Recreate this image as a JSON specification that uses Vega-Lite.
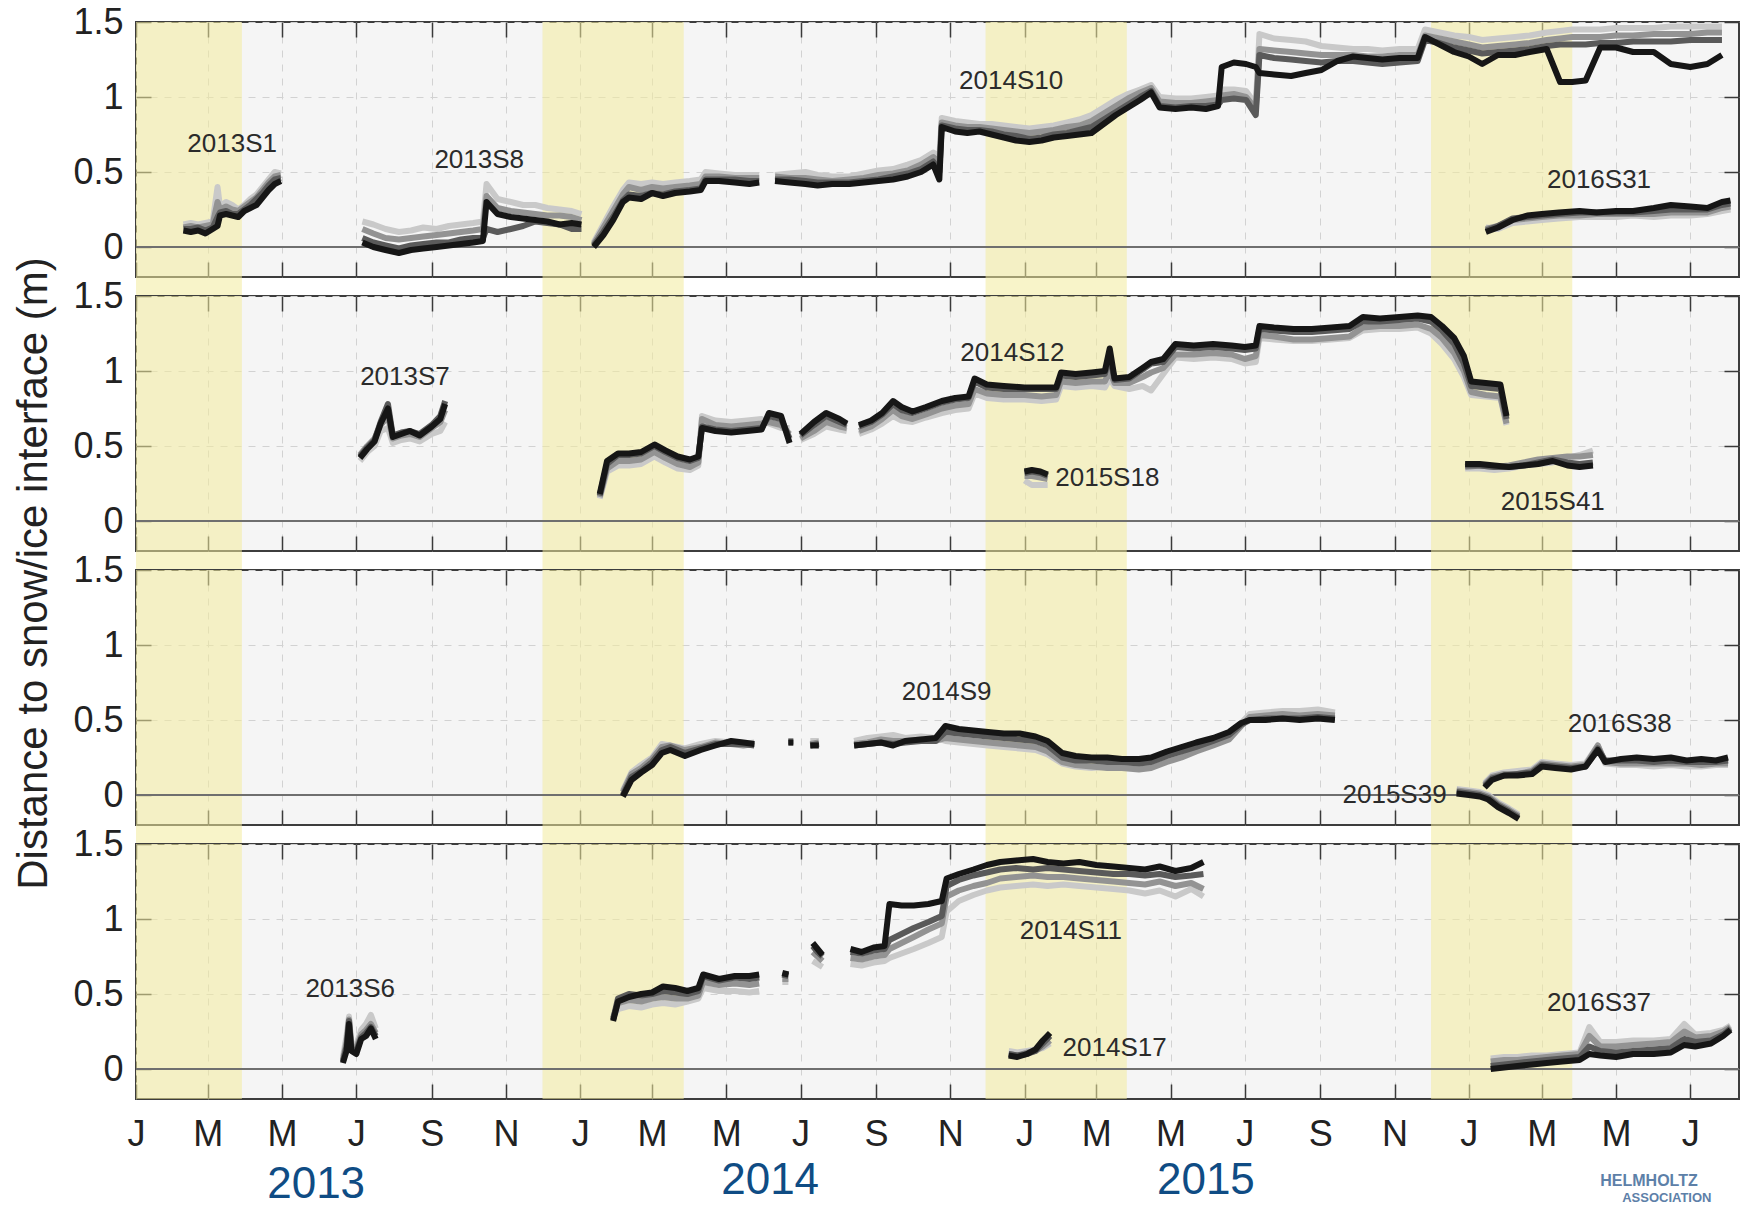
{
"$schema": "https://vega.github.io/schema/vega-lite/v6.json",
"background": "white",
"padding": {"left": 10, "top": 3, "right": 4, "bottom": 2},
"spacing": 19,
"bounds": "flush",
"config": {"font": "Liberation Sans", "view": {"stroke": "#3d3d3d", "strokeWidth": 2, "fill": "#f5f5f5"}},
"datasets": {
"bands": [
{"s":"2013/01/01","e":"2013/03/29"},
{"s":"2013/12/01","e":"2014/03/27"},
{"s":"2014/11/30","e":"2015/03/26"},
{"s":"2015/12/01","e":"2016/03/26"}
],
"labels": [
{"p":1,"t":"2013S1","d":"2013/03/21","v":0.69},
{"p":1,"t":"2013S8","d":"2013/10/10","v":0.58},
{"p":1,"t":"2014S10","d":"2014/12/21","v":1.11},
{"p":1,"t":"2016S31","d":"2016/04/17","v":0.45},
{"p":2,"t":"2013S7","d":"2013/08/10","v":0.96},
{"p":2,"t":"2014S12","d":"2014/12/22","v":1.12},
{"p":2,"t":"2015S18","d":"2015/03/10","v":0.29},
{"p":2,"t":"2015S41","d":"2016/03/10","v":0.13},
{"p":3,"t":"2014S9","d":"2014/10/29","v":0.69},
{"p":3,"t":"2016S38","d":"2016/05/04","v":0.475},
{"p":3,"t":"2015S39","d":"2015/11/01","v":0.0},
{"p":4,"t":"2013S6","d":"2013/06/26","v":0.535},
{"p":4,"t":"2014S11","d":"2015/02/08","v":0.92},
{"p":4,"t":"2014S17","d":"2015/03/16","v":0.14},
{"p":4,"t":"2016S37","d":"2016/04/17","v":0.44}
],
"notes": [
{"k":"year","t":"2013","d":"2013/05/29","v":-0.77},
{"k":"year","t":"2014","d":"2014/06/06","v":-0.745},
{"k":"year","t":"2015","d":"2015/05/30","v":-0.745},
{"k":"org1","t":"HELMHOLTZ","d":"2016/04/18","v":-0.747},
{"k":"org2","t":"ASSOCIATION","d":"2016/05/06","v":-0.86}
],
"obs": [
{"p":1,"g":"1a","d":"2013/02/09","s1":0.11,"s2":0.12,"s3":0.13,"s4":0.15},
{"p":1,"g":"1a","d":"2013/02/15","s1":0.10,"s2":0.12,"s3":0.14,"s4":0.16},
{"p":1,"g":"1a","d":"2013/02/21","s1":0.11,"s2":0.13,"s3":0.13,"s4":0.15},
{"p":1,"g":"1a","d":"2013/02/27","s1":0.09,"s2":0.11,"s3":0.14,"s4":0.16},
{"p":1,"g":"1a","d":"2013/03/05","s1":0.12,"s2":0.13,"s3":0.15,"s4":0.17},
{"p":1,"g":"1a","d":"2013/03/09","s1":0.14,"s2":0.20,"s3":0.30,"s4":0.40},
{"p":1,"g":"1a","d":"2013/03/11","s1":0.21,"s2":0.23,"s3":0.25,"s4":0.27},
{"p":1,"g":"1a","d":"2013/03/16","s1":0.22,"s2":0.24,"s3":0.27,"s4":0.30},
{"p":1,"g":"1a","d":"2013/03/21","s1":0.21,"s2":0.22,"s3":0.25,"s4":0.28},
{"p":1,"g":"1a","d":"2013/03/26","s1":0.20,"s2":0.22,"s3":0.24,"s4":0.25},
{"p":1,"g":"1a","d":"2013/03/31","s1":0.24,"s2":0.25,"s3":0.27,"s4":0.28},
{"p":1,"g":"1a","d":"2013/04/05","s1":0.26,"s2":0.28,"s3":0.30,"s4":0.32},
{"p":1,"g":"1a","d":"2013/04/10","s1":0.28,"s2":0.32,"s3":0.33,"s4":0.35},
{"p":1,"g":"1a","d":"2013/04/15","s1":0.33,"s2":0.36,"s3":0.38,"s4":0.40},
{"p":1,"g":"1a","d":"2013/04/20","s1":0.38,"s2":0.41,"s3":0.43,"s4":0.45},
{"p":1,"g":"1a","d":"2013/04/25","s1":0.42,"s2":0.45,"s3":0.47,"s4":0.50},
{"p":1,"g":"1a","d":"2013/04/30","s1":0.44,"s2":0.46,"s3":0.48,"s4":0.49},
{"p":1,"g":"1b","d":"2013/07/06","s1":0.03,"s2":0.06,"s3":0.12,"s4":0.17},
{"p":1,"g":"1b","d":"2013/07/15","s1":0.00,"s2":0.03,"s3":0.09,"s4":0.15},
{"p":1,"g":"1b","d":"2013/07/25","s1":-0.02,"s2":0.01,"s3":0.06,"s4":0.12},
{"p":1,"g":"1b","d":"2013/08/05","s1":-0.04,"s2":-0.01,"s3":0.05,"s4":0.10},
{"p":1,"g":"1b","d":"2013/08/15","s1":-0.02,"s2":0.01,"s3":0.06,"s4":0.11},
{"p":1,"g":"1b","d":"2013/08/25","s1":-0.01,"s2":0.02,"s3":0.07,"s4":0.13},
{"p":1,"g":"1b","d":"2013/09/05","s1":0.00,"s2":0.03,"s3":0.08,"s4":0.12},
{"p":1,"g":"1b","d":"2013/09/15","s1":0.01,"s2":0.03,"s3":0.09,"s4":0.14},
{"p":1,"g":"1b","d":"2013/09/25","s1":0.02,"s2":0.05,"s3":0.10,"s4":0.15},
{"p":1,"g":"1b","d":"2013/10/05","s1":0.03,"s2":0.06,"s3":0.11,"s4":0.16},
{"p":1,"g":"1b","d":"2013/10/13","s1":0.04,"s2":0.06,"s3":0.12,"s4":0.17},
{"p":1,"g":"1b","d":"2013/10/16","s1":0.30,"s2":0.12,"s3":0.34,"s4":0.42},
{"p":1,"g":"1b","d":"2013/10/25","s1":0.22,"s2":0.10,"s3":0.26,"s4":0.32},
{"p":1,"g":"1b","d":"2013/11/05","s1":0.20,"s2":0.12,"s3":0.24,"s4":0.30},
{"p":1,"g":"1b","d":"2013/11/15","s1":0.19,"s2":0.14,"s3":0.23,"s4":0.28},
{"p":1,"g":"1b","d":"2013/11/25","s1":0.18,"s2":0.17,"s3":0.22,"s4":0.28},
{"p":1,"g":"1b","d":"2013/12/05","s1":0.17,"s2":0.16,"s3":0.21,"s4":0.26},
{"p":1,"g":"1b","d":"2013/12/15","s1":0.15,"s2":0.15,"s3":0.21,"s4":0.25},
{"p":1,"g":"1b","d":"2013/12/25","s1":0.16,"s2":0.12,"s3":0.20,"s4":0.24},
{"p":1,"g":"1b","d":"2014/01/02","s1":0.15,"s2":0.12,"s3":0.18,"s4":0.22},
{"p":1,"g":"1c","d":"2014/01/12","s1":0.00,"s2":0.01,"s3":0.02,"s4":0.03},
{"p":1,"g":"1c","d":"2014/01/20","s1":0.08,"s2":0.10,"s3":0.13,"s4":0.15},
{"p":1,"g":"1c","d":"2014/01/28","s1":0.18,"s2":0.20,"s3":0.24,"s4":0.27},
{"p":1,"g":"1c","d":"2014/02/05","s1":0.30,"s2":0.31,"s3":0.35,"s4":0.38},
{"p":1,"g":"1c","d":"2014/02/10","s1":0.33,"s2":0.35,"s3":0.40,"s4":0.43},
{"p":1,"g":"1c","d":"2014/02/20","s1":0.32,"s2":0.34,"s3":0.38,"s4":0.42},
{"p":1,"g":"1c","d":"2014/03/01","s1":0.36,"s2":0.36,"s3":0.40,"s4":0.43},
{"p":1,"g":"1c","d":"2014/03/10","s1":0.34,"s2":0.35,"s3":0.39,"s4":0.42},
{"p":1,"g":"1c","d":"2014/03/20","s1":0.36,"s2":0.37,"s3":0.40,"s4":0.43},
{"p":1,"g":"1c","d":"2014/04/01","s1":0.37,"s2":0.38,"s3":0.41,"s4":0.44},
{"p":1,"g":"1c","d":"2014/04/10","s1":0.38,"s2":0.39,"s3":0.42,"s4":0.45},
{"p":1,"g":"1c","d":"2014/04/14","s1":0.44,"s2":0.45,"s3":0.47,"s4":0.50},
{"p":1,"g":"1c","d":"2014/04/25","s1":0.44,"s2":0.45,"s3":0.47,"s4":0.49},
{"p":1,"g":"1c","d":"2014/05/08","s1":0.43,"s2":0.45,"s3":0.46,"s4":0.48},
{"p":1,"g":"1c","d":"2014/05/20","s1":0.42,"s2":0.44,"s3":0.46,"s4":0.48},
{"p":1,"g":"1c","d":"2014/05/28","s1":0.43,"s2":0.44,"s3":0.46,"s4":0.48},
{"p":1,"g":"1d","d":"2014/06/10","s1":0.44,"s2":0.45,"s3":0.47,"s4":0.48},
{"p":1,"g":"1d","d":"2014/06/22","s1":0.43,"s2":0.45,"s3":0.46,"s4":0.49},
{"p":1,"g":"1d","d":"2014/07/05","s1":0.42,"s2":0.44,"s3":0.46,"s4":0.50},
{"p":1,"g":"1d","d":"2014/07/15","s1":0.41,"s2":0.43,"s3":0.45,"s4":0.48},
{"p":1,"g":"1d","d":"2014/07/27","s1":0.42,"s2":0.43,"s3":0.44,"s4":0.47},
{"p":1,"g":"1d","d":"2014/08/10","s1":0.42,"s2":0.43,"s3":0.45,"s4":0.47},
{"p":1,"g":"1d","d":"2014/08/22","s1":0.43,"s2":0.44,"s3":0.46,"s4":0.49},
{"p":1,"g":"1d","d":"2014/09/03","s1":0.44,"s2":0.45,"s3":0.48,"s4":0.51},
{"p":1,"g":"1d","d":"2014/09/15","s1":0.45,"s2":0.47,"s3":0.49,"s4":0.52},
{"p":1,"g":"1d","d":"2014/09/27","s1":0.47,"s2":0.49,"s3":0.51,"s4":0.55},
{"p":1,"g":"1d","d":"2014/10/08","s1":0.50,"s2":0.52,"s3":0.55,"s4":0.58},
{"p":1,"g":"1d","d":"2014/10/18","s1":0.55,"s2":0.57,"s3":0.60,"s4":0.63},
{"p":1,"g":"1d","d":"2014/10/23","s1":0.45,"s2":0.50,"s3":0.55,"s4":0.60},
{"p":1,"g":"1d","d":"2014/10/25","s1":0.80,"s2":0.81,"s3":0.83,"s4":0.86},
{"p":1,"g":"1d","d":"2014/11/05","s1":0.77,"s2":0.79,"s3":0.81,"s4":0.84},
{"p":1,"g":"1d","d":"2014/11/15","s1":0.76,"s2":0.78,"s3":0.80,"s4":0.83},
{"p":1,"g":"1d","d":"2014/11/25","s1":0.77,"s2":0.78,"s3":0.80,"s4":0.82},
{"p":1,"g":"1d","d":"2014/12/05","s1":0.75,"s2":0.77,"s3":0.79,"s4":0.82},
{"p":1,"g":"1d","d":"2014/12/15","s1":0.73,"s2":0.75,"s3":0.78,"s4":0.81},
{"p":1,"g":"1d","d":"2014/12/25","s1":0.71,"s2":0.74,"s3":0.77,"s4":0.80},
{"p":1,"g":"1d","d":"2015/01/05","s1":0.70,"s2":0.72,"s3":0.76,"s4":0.79},
{"p":1,"g":"1d","d":"2015/01/15","s1":0.71,"s2":0.73,"s3":0.77,"s4":0.80},
{"p":1,"g":"1d","d":"2015/01/25","s1":0.73,"s2":0.75,"s3":0.78,"s4":0.81},
{"p":1,"g":"1d","d":"2015/02/05","s1":0.74,"s2":0.76,"s3":0.80,"s4":0.83},
{"p":1,"g":"1d","d":"2015/02/15","s1":0.75,"s2":0.78,"s3":0.81,"s4":0.85},
{"p":1,"g":"1d","d":"2015/02/25","s1":0.76,"s2":0.80,"s3":0.84,"s4":0.88},
{"p":1,"g":"1d","d":"2015/03/07","s1":0.82,"s2":0.85,"s3":0.89,"s4":0.93},
{"p":1,"g":"1d","d":"2015/03/17","s1":0.88,"s2":0.90,"s3":0.94,"s4":0.98},
{"p":1,"g":"1d","d":"2015/03/27","s1":0.93,"s2":0.95,"s3":0.99,"s4":1.02},
{"p":1,"g":"1d","d":"2015/04/06","s1":0.98,"s2":1.00,"s3":1.03,"s4":1.05},
{"p":1,"g":"1d","d":"2015/04/15","s1":1.03,"s2":1.04,"s3":1.06,"s4":1.08},
{"p":1,"g":"1d","d":"2015/04/22","s1":0.93,"s2":0.94,"s3":0.97,"s4":1.00},
{"p":1,"g":"1d","d":"2015/05/05","s1":0.92,"s2":0.93,"s3":0.96,"s4":0.99},
{"p":1,"g":"1d","d":"2015/05/18","s1":0.93,"s2":0.94,"s3":0.96,"s4":0.99},
{"p":1,"g":"1d","d":"2015/05/30","s1":0.92,"s2":0.94,"s3":0.97,"s4":1.00},
{"p":1,"g":"1d","d":"2015/06/09","s1":0.94,"s2":0.95,"s3":0.98,"s4":1.01},
{"p":1,"g":"1d","d":"2015/06/12","s1":1.20,"s2":0.98,"s3":1.01,"s4":1.05},
{"p":1,"g":"1d","d":"2015/06/22","s1":1.23,"s2":0.99,"s3":1.02,"s4":1.05},
{"p":1,"g":"1d","d":"2015/07/02","s1":1.22,"s2":0.98,"s3":1.00,"s4":1.04},
{"p":1,"g":"1d","d":"2015/07/10","s1":1.20,"s2":0.88,"s3":0.92,"s4":0.95},
{"p":1,"g":"1d","d":"2015/07/13","s1":1.16,"s2":1.28,"s3":1.32,"s4":1.42},
{"p":1,"g":"1d","d":"2015/07/25","s1":1.15,"s2":1.26,"s3":1.31,"s4":1.39},
{"p":1,"g":"1d","d":"2015/08/08","s1":1.14,"s2":1.25,"s3":1.30,"s4":1.38},
{"p":1,"g":"1d","d":"2015/08/20","s1":1.16,"s2":1.24,"s3":1.29,"s4":1.37},
{"p":1,"g":"1d","d":"2015/09/02","s1":1.18,"s2":1.23,"s3":1.28,"s4":1.34},
{"p":1,"g":"1d","d":"2015/09/15","s1":1.24,"s2":1.24,"s3":1.28,"s4":1.33},
{"p":1,"g":"1d","d":"2015/09/28","s1":1.27,"s2":1.24,"s3":1.28,"s4":1.32},
{"p":1,"g":"1d","d":"2015/10/10","s1":1.26,"s2":1.23,"s3":1.27,"s4":1.32},
{"p":1,"g":"1d","d":"2015/10/22","s1":1.25,"s2":1.22,"s3":1.27,"s4":1.31},
{"p":1,"g":"1d","d":"2015/11/05","s1":1.26,"s2":1.23,"s3":1.28,"s4":1.32},
{"p":1,"g":"1d","d":"2015/11/20","s1":1.26,"s2":1.24,"s3":1.28,"s4":1.32},
{"p":1,"g":"1d","d":"2015/11/26","s1":1.40,"s2":1.38,"s3":1.41,"s4":1.45},
{"p":1,"g":"1d","d":"2015/12/08","s1":1.35,"s2":1.36,"s3":1.39,"s4":1.43},
{"p":1,"g":"1d","d":"2015/12/20","s1":1.30,"s2":1.33,"s3":1.37,"s4":1.41},
{"p":1,"g":"1d","d":"2016/01/01","s1":1.27,"s2":1.31,"s3":1.35,"s4":1.40},
{"p":1,"g":"1d","d":"2016/01/12","s1":1.22,"s2":1.29,"s3":1.33,"s4":1.38},
{"p":1,"g":"1d","d":"2016/01/25","s1":1.28,"s2":1.30,"s3":1.34,"s4":1.39},
{"p":1,"g":"1d","d":"2016/02/08","s1":1.28,"s2":1.31,"s3":1.35,"s4":1.40},
{"p":1,"g":"1d","d":"2016/02/20","s1":1.30,"s2":1.32,"s3":1.36,"s4":1.41},
{"p":1,"g":"1d","d":"2016/03/05","s1":1.32,"s2":1.34,"s3":1.38,"s4":1.43},
{"p":1,"g":"1d","d":"2016/03/16","s1":1.10,"s2":1.35,"s3":1.39,"s4":1.44},
{"p":1,"g":"1d","d":"2016/03/26","s1":1.10,"s2":1.35,"s3":1.40,"s4":1.45},
{"p":1,"g":"1d","d":"2016/04/06","s1":1.11,"s2":1.35,"s3":1.40,"s4":1.45},
{"p":1,"g":"1d","d":"2016/04/18","s1":1.33,"s2":1.36,"s3":1.40,"s4":1.45},
{"p":1,"g":"1d","d":"2016/05/01","s1":1.33,"s2":1.36,"s3":1.41,"s4":1.46},
{"p":1,"g":"1d","d":"2016/05/15","s1":1.30,"s2":1.37,"s3":1.41,"s4":1.46},
{"p":1,"g":"1d","d":"2016/06/01","s1":1.30,"s2":1.37,"s3":1.42,"s4":1.46},
{"p":1,"g":"1d","d":"2016/06/15","s1":1.22,"s2":1.37,"s3":1.42,"s4":1.47},
{"p":1,"g":"1d","d":"2016/07/01","s1":1.20,"s2":1.38,"s3":1.42,"s4":1.47},
{"p":1,"g":"1d","d":"2016/07/15","s1":1.22,"s2":1.38,"s3":1.43,"s4":1.47},
{"p":1,"g":"1d","d":"2016/07/27","s1":1.28,"s2":1.38,"s3":1.43,"s4":1.47},
{"p":1,"g":"1e","d":"2016/01/15","s1":0.10,"s2":0.11,"s3":0.12,"s4":0.13},
{"p":1,"g":"1e","d":"2016/01/25","s1":0.13,"s2":0.14,"s3":0.14,"s4":0.12},
{"p":1,"g":"1e","d":"2016/02/06","s1":0.18,"s2":0.19,"s3":0.18,"s4":0.16},
{"p":1,"g":"1e","d":"2016/02/18","s1":0.21,"s2":0.20,"s3":0.19,"s4":0.17},
{"p":1,"g":"1e","d":"2016/03/01","s1":0.22,"s2":0.21,"s3":0.20,"s4":0.18},
{"p":1,"g":"1e","d":"2016/03/15","s1":0.23,"s2":0.22,"s3":0.21,"s4":0.19},
{"p":1,"g":"1e","d":"2016/04/01","s1":0.24,"s2":0.23,"s3":0.21,"s4":0.20},
{"p":1,"g":"1e","d":"2016/04/15","s1":0.23,"s2":0.23,"s3":0.22,"s4":0.20},
{"p":1,"g":"1e","d":"2016/05/01","s1":0.24,"s2":0.23,"s3":0.22,"s4":0.20},
{"p":1,"g":"1e","d":"2016/05/15","s1":0.24,"s2":0.23,"s3":0.22,"s4":0.21},
{"p":1,"g":"1e","d":"2016/06/01","s1":0.26,"s2":0.24,"s3":0.22,"s4":0.20},
{"p":1,"g":"1e","d":"2016/06/15","s1":0.28,"s2":0.25,"s3":0.23,"s4":0.21},
{"p":1,"g":"1e","d":"2016/07/01","s1":0.27,"s2":0.25,"s3":0.23,"s4":0.21},
{"p":1,"g":"1e","d":"2016/07/15","s1":0.26,"s2":0.25,"s3":0.23,"s4":0.22},
{"p":1,"g":"1e","d":"2016/07/27","s1":0.30,"s2":0.28,"s3":0.26,"s4":0.24},
{"p":1,"g":"1e","d":"2016/08/03","s1":0.31,"s2":0.29,"s3":0.27,"s4":0.25},
{"p":2,"g":"2a","d":"2013/07/04","s1":0.42,"s2":0.43,"s3":0.44,"s4":0.40},
{"p":2,"g":"2a","d":"2013/07/10","s1":0.48,"s2":0.49,"s3":0.50,"s4":0.46},
{"p":2,"g":"2a","d":"2013/07/16","s1":0.53,"s2":0.54,"s3":0.55,"s4":0.50},
{"p":2,"g":"2a","d":"2013/07/21","s1":0.65,"s2":0.66,"s3":0.64,"s4":0.60},
{"p":2,"g":"2a","d":"2013/07/27","s1":0.75,"s2":0.78,"s3":0.70,"s4":0.62},
{"p":2,"g":"2a","d":"2013/07/31","s1":0.56,"s2":0.57,"s3":0.55,"s4":0.52},
{"p":2,"g":"2a","d":"2013/08/07","s1":0.58,"s2":0.59,"s3":0.57,"s4":0.54},
{"p":2,"g":"2a","d":"2013/08/14","s1":0.60,"s2":0.60,"s3":0.58,"s4":0.55},
{"p":2,"g":"2a","d":"2013/08/22","s1":0.57,"s2":0.58,"s3":0.56,"s4":0.53},
{"p":2,"g":"2a","d":"2013/09/01","s1":0.63,"s2":0.64,"s3":0.62,"s4":0.58},
{"p":2,"g":"2a","d":"2013/09/08","s1":0.68,"s2":0.70,"s3":0.66,"s4":0.60},
{"p":2,"g":"2a","d":"2013/09/12","s1":0.78,"s2":0.80,"s3":0.74,"s4":0.66},
{"p":2,"g":"2b","d":"2014/01/17","s1":0.18,"s2":0.17,"s3":0.16,"s4":0.15},
{"p":2,"g":"2b","d":"2014/01/23","s1":0.40,"s2":0.38,"s3":0.35,"s4":0.33},
{"p":2,"g":"2b","d":"2014/02/01","s1":0.45,"s2":0.44,"s3":0.40,"s4":0.37},
{"p":2,"g":"2b","d":"2014/02/10","s1":0.45,"s2":0.44,"s3":0.40,"s4":0.37},
{"p":2,"g":"2b","d":"2014/02/20","s1":0.46,"s2":0.45,"s3":0.41,"s4":0.38},
{"p":2,"g":"2b","d":"2014/03/03","s1":0.51,"s2":0.50,"s3":0.46,"s4":0.43},
{"p":2,"g":"2b","d":"2014/03/12","s1":0.47,"s2":0.46,"s3":0.42,"s4":0.39},
{"p":2,"g":"2b","d":"2014/03/22","s1":0.43,"s2":0.42,"s3":0.38,"s4":0.35},
{"p":2,"g":"2b","d":"2014/04/01","s1":0.41,"s2":0.40,"s3":0.36,"s4":0.34},
{"p":2,"g":"2b","d":"2014/04/08","s1":0.43,"s2":0.42,"s3":0.39,"s4":0.37},
{"p":2,"g":"2b","d":"2014/04/11","s1":0.62,"s2":0.63,"s3":0.68,"s4":0.70},
{"p":2,"g":"2b","d":"2014/04/22","s1":0.60,"s2":0.61,"s3":0.64,"s4":0.67},
{"p":2,"g":"2b","d":"2014/05/05","s1":0.59,"s2":0.60,"s3":0.63,"s4":0.66},
{"p":2,"g":"2b","d":"2014/05/18","s1":0.60,"s2":0.61,"s3":0.64,"s4":0.67},
{"p":2,"g":"2b","d":"2014/05/30","s1":0.61,"s2":0.62,"s3":0.65,"s4":0.68},
{"p":2,"g":"2b","d":"2014/06/05","s1":0.72,"s2":0.70,"s3":0.66,"s4":0.65},
{"p":2,"g":"2b","d":"2014/06/15","s1":0.70,"s2":0.68,"s3":0.64,"s4":0.62},
{"p":2,"g":"2b","d":"2014/06/22","s1":0.52,"s2":0.55,"s3":0.58,"s4":0.62},
{"p":2,"g":"2c","d":"2014/07/01","s1":0.58,"s2":0.57,"s3":0.55,"s4":0.54},
{"p":2,"g":"2c","d":"2014/07/12","s1":0.66,"s2":0.64,"s3":0.60,"s4":0.58},
{"p":2,"g":"2c","d":"2014/07/22","s1":0.72,"s2":0.70,"s3":0.66,"s4":0.63},
{"p":2,"g":"2c","d":"2014/08/02","s1":0.68,"s2":0.66,"s3":0.63,"s4":0.61},
{"p":2,"g":"2c","d":"2014/08/08","s1":0.65,"s2":0.64,"s3":0.62,"s4":0.60},
{"p":2,"g":"2d","d":"2014/08/18","s1":0.64,"s2":0.63,"s3":0.60,"s4":0.58},
{"p":2,"g":"2d","d":"2014/08/28","s1":0.67,"s2":0.66,"s3":0.63,"s4":0.61},
{"p":2,"g":"2d","d":"2014/09/06","s1":0.72,"s2":0.71,"s3":0.68,"s4":0.65},
{"p":2,"g":"2d","d":"2014/09/15","s1":0.80,"s2":0.78,"s3":0.74,"s4":0.70},
{"p":2,"g":"2d","d":"2014/09/22","s1":0.76,"s2":0.74,"s3":0.70,"s4":0.67},
{"p":2,"g":"2d","d":"2014/10/01","s1":0.73,"s2":0.72,"s3":0.68,"s4":0.66},
{"p":2,"g":"2d","d":"2014/10/12","s1":0.76,"s2":0.75,"s3":0.71,"s4":0.69},
{"p":2,"g":"2d","d":"2014/10/25","s1":0.80,"s2":0.79,"s3":0.75,"s4":0.72},
{"p":2,"g":"2d","d":"2014/11/05","s1":0.82,"s2":0.81,"s3":0.77,"s4":0.74},
{"p":2,"g":"2d","d":"2014/11/16","s1":0.83,"s2":0.82,"s3":0.78,"s4":0.75},
{"p":2,"g":"2d","d":"2014/11/21","s1":0.95,"s2":0.93,"s3":0.88,"s4":0.85},
{"p":2,"g":"2d","d":"2014/12/01","s1":0.91,"s2":0.89,"s3":0.85,"s4":0.82},
{"p":2,"g":"2d","d":"2014/12/15","s1":0.90,"s2":0.88,"s3":0.84,"s4":0.81},
{"p":2,"g":"2d","d":"2015/01/01","s1":0.89,"s2":0.88,"s3":0.84,"s4":0.81},
{"p":2,"g":"2d","d":"2015/01/15","s1":0.89,"s2":0.88,"s3":0.83,"s4":0.80},
{"p":2,"g":"2d","d":"2015/01/27","s1":0.89,"s2":0.88,"s3":0.84,"s4":0.81},
{"p":2,"g":"2d","d":"2015/01/31","s1":0.99,"s2":0.97,"s3":0.93,"s4":0.90},
{"p":2,"g":"2d","d":"2015/02/12","s1":0.98,"s2":0.96,"s3":0.92,"s4":0.89},
{"p":2,"g":"2d","d":"2015/02/25","s1":0.99,"s2":0.97,"s3":0.93,"s4":0.90},
{"p":2,"g":"2d","d":"2015/03/08","s1":1.00,"s2":0.98,"s3":0.93,"s4":0.89},
{"p":2,"g":"2d","d":"2015/03/12","s1":1.15,"s2":1.10,"s3":1.00,"s4":0.95},
{"p":2,"g":"2d","d":"2015/03/16","s1":0.95,"s2":0.94,"s3":0.92,"s4":0.90},
{"p":2,"g":"2d","d":"2015/03/28","s1":0.96,"s2":0.95,"s3":0.92,"s4":0.88},
{"p":2,"g":"2d","d":"2015/04/08","s1":1.02,"s2":1.01,"s3":0.96,"s4":0.90},
{"p":2,"g":"2d","d":"2015/04/15","s1":1.06,"s2":1.05,"s3":0.99,"s4":0.87},
{"p":2,"g":"2d","d":"2015/04/25","s1":1.08,"s2":1.06,"s3":1.02,"s4":0.98},
{"p":2,"g":"2d","d":"2015/05/05","s1":1.18,"s2":1.16,"s3":1.11,"s4":1.09},
{"p":2,"g":"2d","d":"2015/05/20","s1":1.17,"s2":1.15,"s3":1.11,"s4":1.08},
{"p":2,"g":"2d","d":"2015/06/05","s1":1.18,"s2":1.16,"s3":1.12,"s4":1.09},
{"p":2,"g":"2d","d":"2015/06/20","s1":1.17,"s2":1.15,"s3":1.11,"s4":1.08},
{"p":2,"g":"2d","d":"2015/07/01","s1":1.16,"s2":1.14,"s3":1.08,"s4":1.05},
{"p":2,"g":"2d","d":"2015/07/10","s1":1.17,"s2":1.15,"s3":1.10,"s4":1.06},
{"p":2,"g":"2d","d":"2015/07/13","s1":1.30,"s2":1.28,"s3":1.24,"s4":1.22},
{"p":2,"g":"2d","d":"2015/07/25","s1":1.29,"s2":1.27,"s3":1.23,"s4":1.21},
{"p":2,"g":"2d","d":"2015/08/10","s1":1.28,"s2":1.26,"s3":1.21,"s4":1.20},
{"p":2,"g":"2d","d":"2015/08/25","s1":1.28,"s2":1.26,"s3":1.21,"s4":1.20},
{"p":2,"g":"2d","d":"2015/09/10","s1":1.29,"s2":1.27,"s3":1.22,"s4":1.21},
{"p":2,"g":"2d","d":"2015/09/25","s1":1.30,"s2":1.28,"s3":1.23,"s4":1.22},
{"p":2,"g":"2d","d":"2015/10/06","s1":1.36,"s2":1.33,"s3":1.29,"s4":1.27},
{"p":2,"g":"2d","d":"2015/10/20","s1":1.35,"s2":1.33,"s3":1.30,"s4":1.28},
{"p":2,"g":"2d","d":"2015/11/05","s1":1.36,"s2":1.34,"s3":1.30,"s4":1.28},
{"p":2,"g":"2d","d":"2015/11/20","s1":1.37,"s2":1.35,"s3":1.31,"s4":1.29},
{"p":2,"g":"2d","d":"2015/12/01","s1":1.36,"s2":1.33,"s3":1.28,"s4":1.25},
{"p":2,"g":"2d","d":"2015/12/10","s1":1.30,"s2":1.27,"s3":1.22,"s4":1.18},
{"p":2,"g":"2d","d":"2015/12/20","s1":1.22,"s2":1.18,"s3":1.12,"s4":1.08},
{"p":2,"g":"2d","d":"2015/12/28","s1":1.10,"s2":1.05,"s3":1.00,"s4":0.96},
{"p":2,"g":"2d","d":"2016/01/03","s1":0.93,"s2":0.90,"s3":0.86,"s4":0.84},
{"p":2,"g":"2d","d":"2016/01/15","s1":0.92,"s2":0.89,"s3":0.84,"s4":0.83},
{"p":2,"g":"2d","d":"2016/01/27","s1":0.91,"s2":0.88,"s3":0.83,"s4":0.82},
{"p":2,"g":"2d","d":"2016/02/01","s1":0.70,"s2":0.68,"s3":0.65,"s4":0.64},
{"p":2,"g":"2e","d":"2015/01/01","s1":0.33,"s2":0.32,"s3":0.30,"s4":0.27},
{"p":2,"g":"2e","d":"2015/01/07","s1":0.34,"s2":0.33,"s3":0.30,"s4":0.24},
{"p":2,"g":"2e","d":"2015/01/14","s1":0.33,"s2":0.32,"s3":0.29,"s4":0.24},
{"p":2,"g":"2e","d":"2015/01/20","s1":0.31,"s2":0.30,"s3":0.28,"s4":0.24},
{"p":2,"g":"2f","d":"2015/12/29","s1":0.38,"s2":0.37,"s3":0.36,"s4":0.35},
{"p":2,"g":"2f","d":"2016/01/10","s1":0.38,"s2":0.37,"s3":0.37,"s4":0.35},
{"p":2,"g":"2f","d":"2016/01/22","s1":0.37,"s2":0.36,"s3":0.36,"s4":0.34},
{"p":2,"g":"2f","d":"2016/02/03","s1":0.36,"s2":0.36,"s3":0.37,"s4":0.35},
{"p":2,"g":"2f","d":"2016/02/15","s1":0.37,"s2":0.37,"s3":0.39,"s4":0.37},
{"p":2,"g":"2f","d":"2016/02/27","s1":0.38,"s2":0.39,"s3":0.41,"s4":0.38},
{"p":2,"g":"2f","d":"2016/03/10","s1":0.40,"s2":0.41,"s3":0.42,"s4":0.39},
{"p":2,"g":"2f","d":"2016/03/22","s1":0.37,"s2":0.39,"s3":0.43,"s4":0.42},
{"p":2,"g":"2f","d":"2016/04/01","s1":0.36,"s2":0.38,"s3":0.43,"s4":0.44},
{"p":2,"g":"2f","d":"2016/04/12","s1":0.37,"s2":0.39,"s3":0.44,"s4":0.47},
{"p":3,"g":"3a","d":"2014/02/05","s1":-0.01,"s2":0.00,"s3":0.02,"s4":0.03},
{"p":3,"g":"3a","d":"2014/02/12","s1":0.10,"s2":0.12,"s3":0.14,"s4":0.15},
{"p":3,"g":"3a","d":"2014/02/20","s1":0.15,"s2":0.16,"s3":0.18,"s4":0.20},
{"p":3,"g":"3a","d":"2014/03/01","s1":0.20,"s2":0.22,"s3":0.24,"s4":0.25},
{"p":3,"g":"3a","d":"2014/03/09","s1":0.28,"s2":0.30,"s3":0.32,"s4":0.34},
{"p":3,"g":"3a","d":"2014/03/16","s1":0.30,"s2":0.32,"s3":0.33,"s4":0.33},
{"p":3,"g":"3a","d":"2014/03/28","s1":0.26,"s2":0.28,"s3":0.30,"s4":0.31},
{"p":3,"g":"3a","d":"2014/04/10","s1":0.30,"s2":0.31,"s3":0.32,"s4":0.34},
{"p":3,"g":"3a","d":"2014/04/22","s1":0.33,"s2":0.34,"s3":0.35,"s4":0.36},
{"p":3,"g":"3a","d":"2014/05/05","s1":0.36,"s2":0.34,"s3":0.34,"s4":0.35},
{"p":3,"g":"3a","d":"2014/05/15","s1":0.35,"s2":0.34,"s3":0.33,"s4":0.34},
{"p":3,"g":"3a","d":"2014/05/24","s1":0.34,"s2":0.33,"s3":0.34,"s4":0.35},
{"p":3,"g":"3b","d":"2014/06/21","s1":0.35,"s2":0.35,"s3":0.36,"s4":0.36},
{"p":3,"g":"3b","d":"2014/06/25","s1":0.35,"s2":0.35,"s3":0.36,"s4":0.36},
{"p":3,"g":"3c","d":"2014/07/09","s1":0.33,"s2":0.33,"s3":0.34,"s4":0.36},
{"p":3,"g":"3c","d":"2014/07/16","s1":0.33,"s2":0.34,"s3":0.35,"s4":0.36},
{"p":3,"g":"3d","d":"2014/08/14","s1":0.33,"s2":0.33,"s3":0.34,"s4":0.36},
{"p":3,"g":"3d","d":"2014/08/25","s1":0.34,"s2":0.34,"s3":0.35,"s4":0.38},
{"p":3,"g":"3d","d":"2014/09/05","s1":0.35,"s2":0.35,"s3":0.37,"s4":0.39},
{"p":3,"g":"3d","d":"2014/09/15","s1":0.33,"s2":0.34,"s3":0.36,"s4":0.40},
{"p":3,"g":"3d","d":"2014/09/25","s1":0.36,"s2":0.35,"s3":0.36,"s4":0.38},
{"p":3,"g":"3d","d":"2014/10/08","s1":0.37,"s2":0.36,"s3":0.37,"s4":0.39},
{"p":3,"g":"3d","d":"2014/10/20","s1":0.38,"s2":0.36,"s3":0.36,"s4":0.38},
{"p":3,"g":"3d","d":"2014/10/28","s1":0.46,"s2":0.42,"s3":0.38,"s4":0.36},
{"p":3,"g":"3d","d":"2014/11/08","s1":0.44,"s2":0.41,"s3":0.37,"s4":0.35},
{"p":3,"g":"3d","d":"2014/11/20","s1":0.43,"s2":0.40,"s3":0.36,"s4":0.34},
{"p":3,"g":"3d","d":"2014/12/02","s1":0.42,"s2":0.39,"s3":0.35,"s4":0.33},
{"p":3,"g":"3d","d":"2014/12/15","s1":0.41,"s2":0.38,"s3":0.34,"s4":0.32},
{"p":3,"g":"3d","d":"2014/12/28","s1":0.41,"s2":0.37,"s3":0.33,"s4":0.31},
{"p":3,"g":"3d","d":"2015/01/10","s1":0.39,"s2":0.36,"s3":0.32,"s4":0.30},
{"p":3,"g":"3d","d":"2015/01/20","s1":0.36,"s2":0.33,"s3":0.29,"s4":0.27},
{"p":3,"g":"3d","d":"2015/02/01","s1":0.28,"s2":0.25,"s3":0.22,"s4":0.21},
{"p":3,"g":"3d","d":"2015/02/12","s1":0.26,"s2":0.23,"s3":0.20,"s4":0.19},
{"p":3,"g":"3d","d":"2015/02/25","s1":0.25,"s2":0.23,"s3":0.19,"s4":0.18},
{"p":3,"g":"3d","d":"2015/03/10","s1":0.25,"s2":0.22,"s3":0.18,"s4":0.19},
{"p":3,"g":"3d","d":"2015/03/22","s1":0.24,"s2":0.22,"s3":0.18,"s4":0.19},
{"p":3,"g":"3d","d":"2015/04/05","s1":0.24,"s2":0.21,"s3":0.17,"s4":0.18},
{"p":3,"g":"3d","d":"2015/04/15","s1":0.25,"s2":0.22,"s3":0.18,"s4":0.20},
{"p":3,"g":"3d","d":"2015/04/28","s1":0.29,"s2":0.26,"s3":0.22,"s4":0.23},
{"p":3,"g":"3d","d":"2015/05/10","s1":0.32,"s2":0.29,"s3":0.25,"s4":0.26},
{"p":3,"g":"3d","d":"2015/05/22","s1":0.35,"s2":0.32,"s3":0.29,"s4":0.30},
{"p":3,"g":"3d","d":"2015/06/05","s1":0.38,"s2":0.36,"s3":0.33,"s4":0.34},
{"p":3,"g":"3d","d":"2015/06/18","s1":0.42,"s2":0.40,"s3":0.37,"s4":0.38},
{"p":3,"g":"3d","d":"2015/06/28","s1":0.48,"s2":0.47,"s3":0.46,"s4":0.48},
{"p":3,"g":"3d","d":"2015/07/05","s1":0.50,"s2":0.50,"s3":0.52,"s4":0.54},
{"p":3,"g":"3d","d":"2015/07/18","s1":0.50,"s2":0.51,"s3":0.53,"s4":0.55},
{"p":3,"g":"3d","d":"2015/08/01","s1":0.51,"s2":0.51,"s3":0.54,"s4":0.56},
{"p":3,"g":"3d","d":"2015/08/15","s1":0.50,"s2":0.51,"s3":0.53,"s4":0.56},
{"p":3,"g":"3d","d":"2015/08/30","s1":0.51,"s2":0.52,"s3":0.54,"s4":0.57},
{"p":3,"g":"3d","d":"2015/09/13","s1":0.50,"s2":0.51,"s3":0.53,"s4":0.55},
{"p":3,"g":"3e","d":"2015/12/22","s1":0.01,"s2":0.02,"s3":0.03,"s4":0.04},
{"p":3,"g":"3e","d":"2016/01/01","s1":0.00,"s2":0.01,"s3":0.02,"s4":0.03},
{"p":3,"g":"3e","d":"2016/01/10","s1":-0.01,"s2":0.00,"s3":0.01,"s4":0.02},
{"p":3,"g":"3e","d":"2016/01/17","s1":-0.03,"s2":-0.02,"s3":-0.01,"s4":0.00},
{"p":3,"g":"3e","d":"2016/01/25","s1":-0.08,"s2":-0.07,"s3":-0.06,"s4":-0.05},
{"p":3,"g":"3e","d":"2016/02/03","s1":-0.12,"s2":-0.11,"s3":-0.10,"s4":-0.09},
{"p":3,"g":"3e","d":"2016/02/11","s1":-0.16,"s2":-0.15,"s3":-0.14,"s4":-0.13},
{"p":3,"g":"3f","d":"2016/01/14","s1":0.05,"s2":0.06,"s3":0.07,"s4":0.08},
{"p":3,"g":"3f","d":"2016/01/20","s1":0.10,"s2":0.11,"s3":0.12,"s4":0.13},
{"p":3,"g":"3f","d":"2016/01/30","s1":0.13,"s2":0.13,"s3":0.14,"s4":0.15},
{"p":3,"g":"3f","d":"2016/02/10","s1":0.13,"s2":0.14,"s3":0.14,"s4":0.16},
{"p":3,"g":"3f","d":"2016/02/22","s1":0.14,"s2":0.15,"s3":0.16,"s4":0.17},
{"p":3,"g":"3f","d":"2016/03/01","s1":0.19,"s2":0.20,"s3":0.21,"s4":0.22},
{"p":3,"g":"3f","d":"2016/03/12","s1":0.18,"s2":0.19,"s3":0.20,"s4":0.21},
{"p":3,"g":"3f","d":"2016/03/25","s1":0.17,"s2":0.18,"s3":0.19,"s4":0.20},
{"p":3,"g":"3f","d":"2016/04/06","s1":0.19,"s2":0.19,"s3":0.20,"s4":0.21},
{"p":3,"g":"3f","d":"2016/04/16","s1":0.30,"s2":0.31,"s3":0.33,"s4":0.33},
{"p":3,"g":"3f","d":"2016/04/22","s1":0.22,"s2":0.23,"s3":0.22,"s4":0.21},
{"p":3,"g":"3f","d":"2016/05/05","s1":0.24,"s2":0.23,"s3":0.21,"s4":0.20},
{"p":3,"g":"3f","d":"2016/05/18","s1":0.25,"s2":0.23,"s3":0.21,"s4":0.20},
{"p":3,"g":"3f","d":"2016/06/01","s1":0.24,"s2":0.22,"s3":0.21,"s4":0.19},
{"p":3,"g":"3f","d":"2016/06/15","s1":0.25,"s2":0.23,"s3":0.21,"s4":0.20},
{"p":3,"g":"3f","d":"2016/06/28","s1":0.23,"s2":0.22,"s3":0.21,"s4":0.19},
{"p":3,"g":"3f","d":"2016/07/10","s1":0.24,"s2":0.22,"s3":0.20,"s4":0.19},
{"p":3,"g":"3f","d":"2016/07/22","s1":0.23,"s2":0.22,"s3":0.21,"s4":0.20},
{"p":3,"g":"3f","d":"2016/08/01","s1":0.25,"s2":0.23,"s3":0.21,"s4":0.20},
{"p":4,"g":"4a","d":"2013/06/20","s1":0.04,"s2":0.05,"s3":0.06,"s4":0.08},
{"p":4,"g":"4a","d":"2013/06/23","s1":0.12,"s2":0.15,"s3":0.18,"s4":0.22},
{"p":4,"g":"4a","d":"2013/06/25","s1":0.30,"s2":0.32,"s3":0.33,"s4":0.35},
{"p":4,"g":"4a","d":"2013/06/27","s1":0.12,"s2":0.13,"s3":0.15,"s4":0.16},
{"p":4,"g":"4a","d":"2013/07/01","s1":0.10,"s2":0.12,"s3":0.14,"s4":0.16},
{"p":4,"g":"4a","d":"2013/07/05","s1":0.20,"s2":0.21,"s3":0.23,"s4":0.26},
{"p":4,"g":"4a","d":"2013/07/09","s1":0.22,"s2":0.24,"s3":0.26,"s4":0.30},
{"p":4,"g":"4a","d":"2013/07/13","s1":0.27,"s2":0.28,"s3":0.30,"s4":0.36},
{"p":4,"g":"4a","d":"2013/07/17","s1":0.20,"s2":0.22,"s3":0.24,"s4":0.27},
{"p":4,"g":"4b","d":"2014/01/28","s1":0.32,"s2":0.33,"s3":0.34,"s4":0.35},
{"p":4,"g":"4b","d":"2014/02/01","s1":0.45,"s2":0.47,"s3":0.44,"s4":0.40},
{"p":4,"g":"4b","d":"2014/02/10","s1":0.48,"s2":0.50,"s3":0.46,"s4":0.42},
{"p":4,"g":"4b","d":"2014/02/20","s1":0.50,"s2":0.49,"s3":0.45,"s4":0.41},
{"p":4,"g":"4b","d":"2014/03/01","s1":0.51,"s2":0.50,"s3":0.47,"s4":0.43},
{"p":4,"g":"4b","d":"2014/03/10","s1":0.55,"s2":0.52,"s3":0.48,"s4":0.44},
{"p":4,"g":"4b","d":"2014/03/20","s1":0.54,"s2":0.51,"s3":0.47,"s4":0.43},
{"p":4,"g":"4b","d":"2014/03/30","s1":0.52,"s2":0.50,"s3":0.47,"s4":0.45},
{"p":4,"g":"4b","d":"2014/04/08","s1":0.54,"s2":0.52,"s3":0.49,"s4":0.47},
{"p":4,"g":"4b","d":"2014/04/12","s1":0.63,"s2":0.62,"s3":0.58,"s4":0.54},
{"p":4,"g":"4b","d":"2014/04/25","s1":0.60,"s2":0.59,"s3":0.56,"s4":0.52},
{"p":4,"g":"4b","d":"2014/05/08","s1":0.62,"s2":0.61,"s3":0.57,"s4":0.52},
{"p":4,"g":"4b","d":"2014/05/20","s1":0.62,"s2":0.60,"s3":0.56,"s4":0.51},
{"p":4,"g":"4b","d":"2014/05/28","s1":0.63,"s2":0.61,"s3":0.57,"s4":0.52},
{"p":4,"g":"4c","d":"2014/06/16","s1":0.64,"s2":0.63,"s3":0.60,"s4":0.58},
{"p":4,"g":"4c","d":"2014/06/21","s1":0.63,"s2":0.62,"s3":0.60,"s4":0.58},
{"p":4,"g":"4d","d":"2014/07/11","s1":0.84,"s2":0.82,"s3":0.78,"s4":0.72},
{"p":4,"g":"4d","d":"2014/07/15","s1":0.80,"s2":0.78,"s3":0.75,"s4":0.70},
{"p":4,"g":"4d","d":"2014/07/19","s1":0.76,"s2":0.75,"s3":0.72,"s4":0.68},
{"p":4,"g":"4e","d":"2014/08/11","s1":0.80,"s2":0.78,"s3":0.74,"s4":0.70},
{"p":4,"g":"4e","d":"2014/08/20","s1":0.78,"s2":0.77,"s3":0.73,"s4":0.69},
{"p":4,"g":"4e","d":"2014/08/30","s1":0.81,"s2":0.79,"s3":0.75,"s4":0.71},
{"p":4,"g":"4e","d":"2014/09/08","s1":0.82,"s2":0.80,"s3":0.76,"s4":0.72},
{"p":4,"g":"4e","d":"2014/09/12","s1":1.10,"s2":0.86,"s3":0.80,"s4":0.74},
{"p":4,"g":"4e","d":"2014/09/22","s1":1.09,"s2":0.90,"s3":0.84,"s4":0.77},
{"p":4,"g":"4e","d":"2014/10/02","s1":1.09,"s2":0.94,"s3":0.88,"s4":0.80},
{"p":4,"g":"4e","d":"2014/10/14","s1":1.10,"s2":0.98,"s3":0.93,"s4":0.84},
{"p":4,"g":"4e","d":"2014/10/25","s1":1.12,"s2":1.02,"s3":0.97,"s4":0.88},
{"p":4,"g":"4e","d":"2014/10/29","s1":1.27,"s2":1.22,"s3":1.15,"s4":1.05},
{"p":4,"g":"4e","d":"2014/11/08","s1":1.30,"s2":1.26,"s3":1.19,"s4":1.12},
{"p":4,"g":"4e","d":"2014/11/20","s1":1.33,"s2":1.29,"s3":1.22,"s4":1.16},
{"p":4,"g":"4e","d":"2014/12/01","s1":1.36,"s2":1.31,"s3":1.24,"s4":1.19},
{"p":4,"g":"4e","d":"2014/12/12","s1":1.38,"s2":1.33,"s3":1.27,"s4":1.21},
{"p":4,"g":"4e","d":"2014/12/25","s1":1.39,"s2":1.34,"s3":1.28,"s4":1.22},
{"p":4,"g":"4e","d":"2015/01/08","s1":1.40,"s2":1.33,"s3":1.29,"s4":1.23},
{"p":4,"g":"4e","d":"2015/01/20","s1":1.38,"s2":1.34,"s3":1.28,"s4":1.22},
{"p":4,"g":"4e","d":"2015/02/02","s1":1.37,"s2":1.33,"s3":1.28,"s4":1.23},
{"p":4,"g":"4e","d":"2015/02/15","s1":1.38,"s2":1.32,"s3":1.27,"s4":1.22},
{"p":4,"g":"4e","d":"2015/03/01","s1":1.36,"s2":1.31,"s3":1.26,"s4":1.21},
{"p":4,"g":"4e","d":"2015/03/15","s1":1.35,"s2":1.30,"s3":1.25,"s4":1.20},
{"p":4,"g":"4e","d":"2015/03/28","s1":1.34,"s2":1.30,"s3":1.24,"s4":1.19},
{"p":4,"g":"4e","d":"2015/04/10","s1":1.33,"s2":1.29,"s3":1.23,"s4":1.17},
{"p":4,"g":"4e","d":"2015/04/22","s1":1.35,"s2":1.30,"s3":1.25,"s4":1.19},
{"p":4,"g":"4e","d":"2015/05/05","s1":1.32,"s2":1.28,"s3":1.22,"s4":1.15},
{"p":4,"g":"4e","d":"2015/05/18","s1":1.34,"s2":1.29,"s3":1.24,"s4":1.20},
{"p":4,"g":"4e","d":"2015/05/28","s1":1.38,"s2":1.30,"s3":1.20,"s4":1.15},
{"p":4,"g":"4f","d":"2014/12/19","s1":0.09,"s2":0.10,"s3":0.10,"s4":0.12},
{"p":4,"g":"4f","d":"2014/12/26","s1":0.08,"s2":0.09,"s3":0.09,"s4":0.11},
{"p":4,"g":"4f","d":"2015/01/03","s1":0.10,"s2":0.10,"s3":0.11,"s4":0.12},
{"p":4,"g":"4f","d":"2015/01/10","s1":0.13,"s2":0.12,"s3":0.12,"s4":0.13},
{"p":4,"g":"4f","d":"2015/01/16","s1":0.19,"s2":0.17,"s3":0.15,"s4":0.14},
{"p":4,"g":"4f","d":"2015/01/22","s1":0.24,"s2":0.22,"s3":0.19,"s4":0.17},
{"p":4,"g":"4g","d":"2016/01/19","s1":0.00,"s2":0.02,"s3":0.05,"s4":0.07},
{"p":4,"g":"4g","d":"2016/01/30","s1":0.01,"s2":0.03,"s3":0.06,"s4":0.08},
{"p":4,"g":"4g","d":"2016/02/10","s1":0.02,"s2":0.04,"s3":0.06,"s4":0.08},
{"p":4,"g":"4g","d":"2016/02/22","s1":0.03,"s2":0.05,"s3":0.07,"s4":0.09},
{"p":4,"g":"4g","d":"2016/03/05","s1":0.04,"s2":0.06,"s3":0.08,"s4":0.09},
{"p":4,"g":"4g","d":"2016/03/18","s1":0.05,"s2":0.07,"s3":0.09,"s4":0.10},
{"p":4,"g":"4g","d":"2016/04/01","s1":0.06,"s2":0.08,"s3":0.10,"s4":0.11},
{"p":4,"g":"4g","d":"2016/04/09","s1":0.10,"s2":0.15,"s3":0.22,"s4":0.28},
{"p":4,"g":"4g","d":"2016/04/18","s1":0.09,"s2":0.12,"s3":0.15,"s4":0.18},
{"p":4,"g":"4g","d":"2016/05/01","s1":0.08,"s2":0.11,"s3":0.15,"s4":0.18},
{"p":4,"g":"4g","d":"2016/05/15","s1":0.10,"s2":0.12,"s3":0.16,"s4":0.19},
{"p":4,"g":"4g","d":"2016/06/01","s1":0.10,"s2":0.13,"s3":0.17,"s4":0.19},
{"p":4,"g":"4g","d":"2016/06/15","s1":0.11,"s2":0.14,"s3":0.18,"s4":0.20},
{"p":4,"g":"4g","d":"2016/06/26","s1":0.16,"s2":0.20,"s3":0.25,"s4":0.30},
{"p":4,"g":"4g","d":"2016/07/05","s1":0.15,"s2":0.18,"s3":0.21,"s4":0.23},
{"p":4,"g":"4g","d":"2016/07/18","s1":0.17,"s2":0.19,"s3":0.22,"s4":0.24},
{"p":4,"g":"4g","d":"2016/07/28","s1":0.22,"s2":0.23,"s3":0.25,"s4":0.26},
{"p":4,"g":"4g","d":"2016/08/03","s1":0.26,"s2":0.27,"s3":0.28,"s4":0.29}
]
},
"vconcat": [
{
"width": 1603, "height": 255,
"layer": [
{"data": {"name": "bands"},
 "mark": {"type": "rect", "fill": "#f2eb9c", "opacity": 0.55, "clip": false},
 "encoding": {
  "x": {"field": "s", "type": "temporal", "scale": {"domain": [{"year": 2013, "month": 1, "date": 1}, {"year": 2016, "month": 8, "date": 10}], "nice": false},
        "axis": {"orient": "bottom", "tickCount": {"interval": "month", "step": 2}, "grid": true, "gridDash": [7, 7], "gridColor": "#d2d2d2", "domain": false, "tickSize": -15, "tickWidth": 1.5, "tickColor": "#3a3a3a", "labels": false, "title": null}},
  "x2": {"field": "e"},
  "y": {"datum": 1.5, "type": "quantitative", "scale": {"domain": [-0.2, 1.5], "nice": false, "zero": false},
        "axis": {"orient": "left", "values": [0, 0.5, 1, 1.5], "format": "~g", "grid": true, "gridDash": [7, 7], "gridColor": "#d2d2d2", "domain": false, "tickSize": -15, "tickWidth": 1.5, "tickColor": "#3a3a3a", "labelFontSize": 36, "labelColor": "#222222", "labelPadding": 28, "labelFlush": false, "title": null}},
  "y2": {"datum": -0.327}
 }},
{"data": {"values": [{}]}, "mark": {"type": "rule", "color": "#6f6f6f", "strokeWidth": 2}, "encoding": {"y": {"datum": 0, "type": "quantitative", "axis": null}}},
{"data": {"name": "obs"}, "transform": [{"filter": "datum.p == 1"}, {"fold": ["s4", "s3", "s2", "s1"], "as": ["k", "v"]}],
 "mark": {"type": "line", "strokeWidth": 6, "clip": true, "strokeJoin": "round"},
 "encoding": {
  "x": {"field": "d", "type": "temporal", "axis": {"orient": "top", "tickCount": {"interval": "month", "step": 2}, "grid": false, "domain": false, "tickSize": -15, "tickWidth": 1.5, "tickColor": "#3a3a3a", "labels": false, "title": null}},
  "y": {"field": "v", "type": "quantitative", "axis": {"orient": "right", "values": [0, 0.5, 1, 1.5], "grid": false, "domain": false, "tickSize": -15, "tickWidth": 1.5, "tickColor": "#3a3a3a", "labels": false, "title": null}},
  "color": {"field": "k", "type": "nominal", "scale": {"domain": ["s4", "s3", "s2", "s1"], "range": ["#c9c9c9", "#939393", "#5a5a5a", "#161616"]}, "legend": null},
  "detail": {"field": "g", "type": "nominal"}
 }},
{"data": {"name": "labels"}, "transform": [{"filter": "datum.p == 1"}],
 "mark": {"type": "text", "fontSize": 26, "color": "#2b2b2b", "baseline": "middle"},
 "encoding": {"x": {"field": "d", "type": "temporal", "axis": null}, "y": {"field": "v", "type": "quantitative", "axis": null}, "text": {"field": "t"}}}
],
"resolve": {"axis": {"x": "independent", "y": "independent"}}
},
{
"width": 1603, "height": 255,
"layer": [
{"data": {"name": "bands"},
 "mark": {"type": "rect", "fill": "#f2eb9c", "opacity": 0.55, "clip": false},
 "encoding": {
  "x": {"field": "s", "type": "temporal", "scale": {"domain": [{"year": 2013, "month": 1, "date": 1}, {"year": 2016, "month": 8, "date": 10}], "nice": false},
        "axis": {"orient": "bottom", "tickCount": {"interval": "month", "step": 2}, "grid": true, "gridDash": [7, 7], "gridColor": "#d2d2d2", "domain": false, "tickSize": -15, "tickWidth": 1.5, "tickColor": "#3a3a3a", "labels": false, "title": null}},
  "x2": {"field": "e"},
  "y": {"datum": 1.5, "type": "quantitative", "scale": {"domain": [-0.2, 1.5], "nice": false, "zero": false},
        "axis": {"orient": "left", "values": [0, 0.5, 1, 1.5], "format": "~g", "grid": true, "gridDash": [7, 7], "gridColor": "#d2d2d2", "domain": false, "tickSize": -15, "tickWidth": 1.5, "tickColor": "#3a3a3a", "labelFontSize": 36, "labelColor": "#222222", "labelPadding": 28, "labelFlush": false,
                 "title": "Distance to snow/ice interface (m)", "titleFontSize": 42, "titleFontWeight": "normal", "titleColor": "#222222", "titleAngle": 270, "titleX": -90, "titleY": 277, "titleAlign": "center", "titleBaseline": "alphabetic"}},
  "y2": {"datum": -0.327}
 }},
{"data": {"values": [{}]}, "mark": {"type": "rule", "color": "#6f6f6f", "strokeWidth": 2}, "encoding": {"y": {"datum": 0, "type": "quantitative", "axis": null}}},
{"data": {"name": "obs"}, "transform": [{"filter": "datum.p == 2"}, {"fold": ["s4", "s3", "s2", "s1"], "as": ["k", "v"]}],
 "mark": {"type": "line", "strokeWidth": 6, "clip": true, "strokeJoin": "round"},
 "encoding": {
  "x": {"field": "d", "type": "temporal", "axis": {"orient": "top", "tickCount": {"interval": "month", "step": 2}, "grid": false, "domain": false, "tickSize": -15, "tickWidth": 1.5, "tickColor": "#3a3a3a", "labels": false, "title": null}},
  "y": {"field": "v", "type": "quantitative", "axis": {"orient": "right", "values": [0, 0.5, 1, 1.5], "grid": false, "domain": false, "tickSize": -15, "tickWidth": 1.5, "tickColor": "#3a3a3a", "labels": false, "title": null}},
  "color": {"field": "k", "type": "nominal", "scale": {"domain": ["s4", "s3", "s2", "s1"], "range": ["#c9c9c9", "#939393", "#5a5a5a", "#161616"]}, "legend": null},
  "detail": {"field": "g", "type": "nominal"}
 }},
{"data": {"name": "labels"}, "transform": [{"filter": "datum.p == 2"}],
 "mark": {"type": "text", "fontSize": 26, "color": "#2b2b2b", "baseline": "middle"},
 "encoding": {"x": {"field": "d", "type": "temporal", "axis": null}, "y": {"field": "v", "type": "quantitative", "axis": null}, "text": {"field": "t"}}}
],
"resolve": {"axis": {"x": "independent", "y": "independent"}}
},
{
"width": 1603, "height": 255,
"layer": [
{"data": {"name": "bands"},
 "mark": {"type": "rect", "fill": "#f2eb9c", "opacity": 0.55, "clip": false},
 "encoding": {
  "x": {"field": "s", "type": "temporal", "scale": {"domain": [{"year": 2013, "month": 1, "date": 1}, {"year": 2016, "month": 8, "date": 10}], "nice": false},
        "axis": {"orient": "bottom", "tickCount": {"interval": "month", "step": 2}, "grid": true, "gridDash": [7, 7], "gridColor": "#d2d2d2", "domain": false, "tickSize": -15, "tickWidth": 1.5, "tickColor": "#3a3a3a", "labels": false, "title": null}},
  "x2": {"field": "e"},
  "y": {"datum": 1.5, "type": "quantitative", "scale": {"domain": [-0.2, 1.5], "nice": false, "zero": false},
        "axis": {"orient": "left", "values": [0, 0.5, 1, 1.5], "format": "~g", "grid": true, "gridDash": [7, 7], "gridColor": "#d2d2d2", "domain": false, "tickSize": -15, "tickWidth": 1.5, "tickColor": "#3a3a3a", "labelFontSize": 36, "labelColor": "#222222", "labelPadding": 28, "labelFlush": false, "title": null}},
  "y2": {"datum": -0.327}
 }},
{"data": {"values": [{}]}, "mark": {"type": "rule", "color": "#6f6f6f", "strokeWidth": 2}, "encoding": {"y": {"datum": 0, "type": "quantitative", "axis": null}}},
{"data": {"name": "obs"}, "transform": [{"filter": "datum.p == 3"}, {"fold": ["s4", "s3", "s2", "s1"], "as": ["k", "v"]}],
 "mark": {"type": "line", "strokeWidth": 6, "clip": true, "strokeJoin": "round"},
 "encoding": {
  "x": {"field": "d", "type": "temporal", "axis": {"orient": "top", "tickCount": {"interval": "month", "step": 2}, "grid": false, "domain": false, "tickSize": -15, "tickWidth": 1.5, "tickColor": "#3a3a3a", "labels": false, "title": null}},
  "y": {"field": "v", "type": "quantitative", "axis": {"orient": "right", "values": [0, 0.5, 1, 1.5], "grid": false, "domain": false, "tickSize": -15, "tickWidth": 1.5, "tickColor": "#3a3a3a", "labels": false, "title": null}},
  "color": {"field": "k", "type": "nominal", "scale": {"domain": ["s4", "s3", "s2", "s1"], "range": ["#c9c9c9", "#939393", "#5a5a5a", "#161616"]}, "legend": null},
  "detail": {"field": "g", "type": "nominal"}
 }},
{"data": {"name": "labels"}, "transform": [{"filter": "datum.p == 3"}],
 "mark": {"type": "text", "fontSize": 26, "color": "#2b2b2b", "baseline": "middle"},
 "encoding": {"x": {"field": "d", "type": "temporal", "axis": null}, "y": {"field": "v", "type": "quantitative", "axis": null}, "text": {"field": "t"}}}
],
"resolve": {"axis": {"x": "independent", "y": "independent"}}
},
{
"width": 1603, "height": 255,
"layer": [
{"data": {"name": "bands"},
 "mark": {"type": "rect", "fill": "#f2eb9c", "opacity": 0.55, "clip": false},
 "encoding": {
  "x": {"field": "s", "type": "temporal", "scale": {"domain": [{"year": 2013, "month": 1, "date": 1}, {"year": 2016, "month": 8, "date": 10}], "nice": false},
        "axis": {"orient": "bottom", "tickCount": {"interval": "month", "step": 2}, "grid": true, "gridDash": [7, 7], "gridColor": "#d2d2d2", "domain": false, "tickSize": -15, "tickWidth": 1.5, "tickColor": "#3a3a3a", "labels": true, "labelExpr": "substring(timeFormat(datum.value, '%b'), 0, 1)", "labelFontSize": 36, "labelColor": "#222222", "labelPadding": 33, "labelFlush": false, "labelOverlap": false, "title": null}},
  "x2": {"field": "e"},
  "y": {"datum": 1.5, "type": "quantitative", "scale": {"domain": [-0.2, 1.5], "nice": false, "zero": false},
        "axis": {"orient": "left", "values": [0, 0.5, 1, 1.5], "format": "~g", "grid": true, "gridDash": [7, 7], "gridColor": "#d2d2d2", "domain": false, "tickSize": -15, "tickWidth": 1.5, "tickColor": "#3a3a3a", "labelFontSize": 36, "labelColor": "#222222", "labelPadding": 28, "labelFlush": false, "title": null}},
  "y2": {"datum": -0.2}
 }},
{"data": {"values": [{}]}, "mark": {"type": "rule", "color": "#6f6f6f", "strokeWidth": 2}, "encoding": {"y": {"datum": 0, "type": "quantitative", "axis": null}}},
{"data": {"name": "obs"}, "transform": [{"filter": "datum.p == 4"}, {"fold": ["s4", "s3", "s2", "s1"], "as": ["k", "v"]}],
 "mark": {"type": "line", "strokeWidth": 6, "clip": true, "strokeJoin": "round"},
 "encoding": {
  "x": {"field": "d", "type": "temporal", "axis": {"orient": "top", "tickCount": {"interval": "month", "step": 2}, "grid": false, "domain": false, "tickSize": -15, "tickWidth": 1.5, "tickColor": "#3a3a3a", "labels": false, "title": null}},
  "y": {"field": "v", "type": "quantitative", "axis": {"orient": "right", "values": [0, 0.5, 1, 1.5], "grid": false, "domain": false, "tickSize": -15, "tickWidth": 1.5, "tickColor": "#3a3a3a", "labels": false, "title": null}},
  "color": {"field": "k", "type": "nominal", "scale": {"domain": ["s4", "s3", "s2", "s1"], "range": ["#c9c9c9", "#939393", "#5a5a5a", "#161616"]}, "legend": null},
  "detail": {"field": "g", "type": "nominal"}
 }},
{"data": {"name": "labels"}, "transform": [{"filter": "datum.p == 4"}],
 "mark": {"type": "text", "fontSize": 26, "color": "#2b2b2b", "baseline": "middle"},
 "encoding": {"x": {"field": "d", "type": "temporal", "axis": null}, "y": {"field": "v", "type": "quantitative", "axis": null}, "text": {"field": "t"}}},
{"data": {"name": "notes"}, "transform": [{"filter": "datum.k == 'year'"}],
 "mark": {"type": "text", "fontSize": 44, "color": "#0f4c84", "baseline": "middle", "clip": false},
 "encoding": {"x": {"field": "d", "type": "temporal", "axis": null}, "y": {"field": "v", "type": "quantitative", "axis": null}, "text": {"field": "t"}}},
{"data": {"name": "notes"}, "transform": [{"filter": "datum.k == 'org1'"}],
 "mark": {"type": "text", "fontSize": 16, "fontWeight": "bold", "color": "#5d80a8", "baseline": "middle", "align": "left", "clip": false},
 "encoding": {"x": {"field": "d", "type": "temporal", "axis": null}, "y": {"field": "v", "type": "quantitative", "axis": null}, "text": {"field": "t"}}},
{"data": {"name": "notes"}, "transform": [{"filter": "datum.k == 'org2'"}],
 "mark": {"type": "text", "fontSize": 13, "fontWeight": "bold", "color": "#5d80a8", "baseline": "middle", "align": "left", "clip": false},
 "encoding": {"x": {"field": "d", "type": "temporal", "axis": null}, "y": {"field": "v", "type": "quantitative", "axis": null}, "text": {"field": "t"}}}
],
"resolve": {"axis": {"x": "independent", "y": "independent"}}
}
]
}
